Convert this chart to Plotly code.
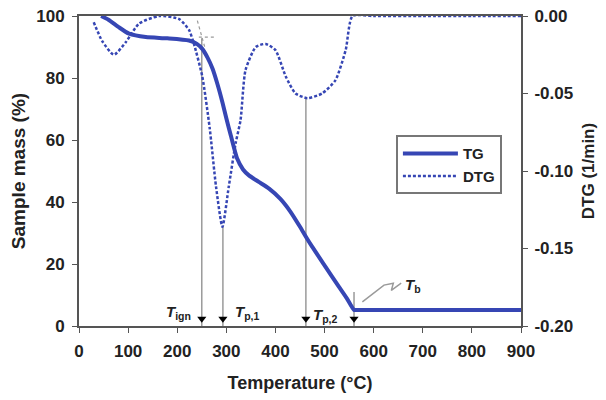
import plotly.graph_objects as go

# ---- data ----
tg_temp = [45, 60, 80, 102, 136, 180, 224, 240, 251, 262, 272, 282, 292, 300, 309,
           322, 334, 346, 366, 387, 410, 430, 450, 462, 475, 502, 529, 545, 560,
           566, 600, 700, 800, 900]
tg_mass = [100, 98.8, 96.5, 94.3, 93.2, 92.8, 92.1, 91.0, 89.4, 86.5, 83.0, 78.0, 72.2,
           67.0, 61.5, 54.0, 50.5, 48.6, 46.5, 44.3, 41.0, 37.0, 32.0, 28.8, 25.5,
           19.1, 12.7, 9.0, 5.2, 5.2, 5.2, 5.2, 5.2, 5.2]

dtg_temp = [30, 47, 71, 95, 122, 163, 204, 224, 234, 251, 266, 279, 292, 305, 319,
            329, 339, 360, 380, 400, 421, 441, 465, 495, 522, 543, 557, 600, 700, 800, 900]
dtg_rate = [-0.004, -0.016, -0.025, -0.017, -0.005, 0.0, -0.002, -0.009, -0.018, -0.039,
            -0.072, -0.110, -0.136, -0.110, -0.082, -0.067, -0.035, -0.020, -0.018,
            -0.022, -0.039, -0.050, -0.053, -0.050, -0.0415, -0.022, 0.0, 0.0, 0.0, 0.0, 0.0]

# characteristic temperatures (°C)
t_ign, t_p1, t_p2, t_b = 250, 293, 462, 560
dtg_p1, dtg_p2 = -0.136, -0.053
tg_ign = 92.8

x_ticks = [0, 100, 200, 300, 400, 500, 600, 700, 800, 900]
y_ticks = [0, 20, 40, 60, 80, 100]
y2_ticks = [0.0, -0.05, -0.10, -0.15, -0.20]
y2_labels = ["0.00", "-0.05", "-0.10", "-0.15", "-0.20"]

BLUE = "#3646b4"
GRAY = "#9a9a9a"
AX = "#555555"
FONT = "Liberation Sans, Arial, Helvetica, sans-serif"


def dtg_to_left(v):
    # map DTG value onto the left (mass) scale, both axes share the plot height
    return 100 + v / 0.2 * 100


fig = go.Figure()

fig.add_trace(go.Scatter(x=tg_temp, y=tg_mass, name="TG", mode="lines",
                         line=dict(color=BLUE, width=4, shape="spline", smoothing=0.6),
                         yaxis="y"))
fig.add_trace(go.Scatter(x=dtg_temp, y=dtg_rate, name="DTG", mode="lines",
                         line=dict(color=BLUE, width=2.5, dash="3px,2px",
                                   shape="spline", smoothing=0.6),
                         yaxis="y2"))

shapes = []
# vertical indicator lines
for t, top in [(t_ign, tg_ign), (t_p1, dtg_to_left(dtg_p1)),
               (t_p2, dtg_to_left(dtg_p2)), (t_b, 11)]:
    shapes.append(dict(type="line", xref="x", yref="y", x0=t, x1=t, y0=top, y1=0,
                       line=dict(color=GRAY, width=1.5), layer="below"))
# ignition tangent construction (dotted)
shapes.append(dict(type="line", xref="x", yref="y", x0=241, x1=256, y0=98.5, y1=90,
                   line=dict(color=GRAY, width=1.2, dash="dot")))
shapes.append(dict(type="line", xref="x", yref="y", x0=244, x1=278, y0=tg_ign + 0.4,
                   y1=tg_ign + 0.4, line=dict(color=GRAY, width=1.2, dash="dot")))

# arrow heads at the bottom of the indicator lines
fig.add_trace(go.Scatter(x=[t_ign, t_p1, t_p2, t_b], y=[2.3, 2.3, 2.3, 2.3],
                         mode="markers", showlegend=False, yaxis="y",
                         marker=dict(symbol="triangle-down", size=8, color="black")))

annotations = [
    dict(x=t_ign - 18, y=4.5, xref="x", yref="y", xanchor="right", yanchor="middle",
         text="<b><i>T</i></b><sub><b>ign</b></sub>", showarrow=False,
         font=dict(family=FONT, size=15, color="#222")),
    dict(x=t_p1 + 20, y=4.5, xref="x", yref="y", xanchor="left", yanchor="middle",
         text="<b><i>T</i></b><sub><b>p,1</b></sub>", showarrow=False,
         font=dict(family=FONT, size=15, color="#222")),
    dict(x=t_p2 + 10, y=3.5, xref="x", yref="y", xanchor="left", yanchor="middle",
         text="<b><i>T</i></b><sub><b>p,2</b></sub>", showarrow=False,
         font=dict(family=FONT, size=15, color="#222")),
    dict(x=t_b + 100, y=13.0, xref="x", yref="y", xanchor="left", yanchor="middle",
         text="<b><i>T</i></b><sub><b>b</b></sub>", showarrow=False,
         font=dict(family=FONT, size=15, color="#222")),
    dict(x=1.178, y=0.5, xref="paper", yref="paper", textangle=-90,
         text="<b>DTG (1/min)</b>", showarrow=False,
         font=dict(family=FONT, size=17, color="#222")),
]

# zig-zag leader to T_b
fig.add_trace(go.Scatter(x=[t_b + 17, t_b + 61, t_b + 80, t_b + 76, t_b + 96],
                         y=[7.8, 13.2, 13.8, 11.5, 13.8], mode="lines",
                         showlegend=False, yaxis="y",
                         line=dict(color=GRAY, width=1.5)))

fig.update_layout(
    width=596, height=392,
    margin=dict(l=71, r=83, t=8, b=74),
    paper_bgcolor="white", plot_bgcolor="white",
    font=dict(family=FONT, size=17, color="#222"),
    shapes=shapes, annotations=annotations,
    xaxis=dict(range=[0, 900], tickvals=x_ticks, ticks="outside", ticklen=5,
               tickcolor=AX, linecolor=AX, linewidth=2, mirror=True, showgrid=False,
               zeroline=False, automargin=False, ticklabeloverflow="allow",
               ticklabelstandoff=4,
               tickfont=dict(family=FONT, size=17, weight="bold"),
               title=dict(text="<b>Temperature (°C)</b>", font=dict(size=18), standoff=16)),
    yaxis=dict(range=[0, 100], tickvals=y_ticks, ticks="outside", ticklen=5,
               tickcolor=AX, linecolor=AX, linewidth=2, showgrid=False, zeroline=False,
               automargin=False, ticklabeloverflow="allow", ticklabelstandoff=4,
               tickfont=dict(family=FONT, size=17, weight="bold"),
               title=dict(text="<b>Sample mass (%)</b>", font=dict(size=19), standoff=10)),
    yaxis2=dict(range=[-0.2, 0], tickvals=y2_ticks, ticktext=y2_labels, overlaying="y",
                side="right", ticks="outside", ticklen=5, tickcolor=AX, linecolor=AX,
                linewidth=2, showgrid=False, zeroline=False, automargin=False,
                ticklabeloverflow="allow", ticklabelstandoff=3,
                tickfont=dict(family=FONT, size=17, weight="bold")),
    legend=dict(x=0.717, y=0.615, xanchor="left", yanchor="top",
                bordercolor="#777", borderwidth=2, bgcolor="white",
                font=dict(family=FONT, size=15, weight="bold"),
                itemwidth=55, tracegroupgap=8),
    showlegend=True,
)

fig.write_html("out.html")
